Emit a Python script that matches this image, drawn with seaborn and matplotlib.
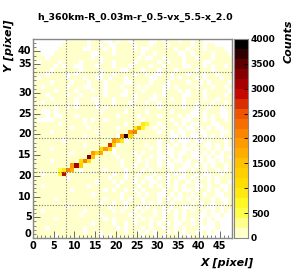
import numpy as np
import pandas as pd
import matplotlib
matplotlib.use("Agg")
import matplotlib.pyplot as plt
import matplotlib.transforms as mtransforms
import seaborn as sns
from matplotlib.colors import LinearSegmentedColormap

# 48x48 histogram, rows listed from top (y=47) to bottom (y=0); '#' = filled bin, '.' = empty
background_rows = [
    "........#####.###..#.##.####..#.###.##.##.......",
    ".......######.##.#..####.###.###.#####.##.##....",
    "#.....######..###.#.####.#..######.##.###.####..",
    "##...#########..###.######.##.#####..#.####.###.",
    "###.##########.#.########.#..##.####.##.###.####",
    "#.####.####.####.##.####.#####.#.###.####..#####",
    "#####.#.##..###.###.###.####.##.####..###.#.##.#",
    "####.######.####.####..###.###.###.####.###.####",
    "###.####.#.#####.##.####.##.#..##.###.###.##.###",
    "#.######.###.##..#.###.#####..###.#.###.#.###.##",
    "####.####.###.###.####..####.###.####.##.#.####.",
    "##.#####.###..###.###.###.#.###..#.####.###.##.#",
    "#####.####.###.##.####.###.####.###.#.###.#####.",
    "###.####.##.#####.###..#.####.#.####..###.####.#",
    "####.#####.###..###.####.###..###.##.####.##.###",
    "##.#######.####.###.###.###.##.#####.##.###.##.#",
    "#####.##.#.####.#.######.#####.#####.##.##.##.##",
    "##..#.##########.#####.####.#####.####..#.###..#",
    "###.#..###.#########.####.####.####.#...#.#.#..#",
    "#....#######.#.##.########.######.##..###.#.##.#",
    "######.#####.#########.#######.###.#.#..###..###",
    "#########.###.######.########.#.###.#..#.#.#..##",
    "####.##########.##############.##.#..#.#..###..#",
    "############.#######.############..#.#..#.#.#.##",
    "#######.##############.#######.##.#...#..#.###.#",
    "############.#######.######.##.#.#.#.#.##..#.#.#",
    "####.##############.########.#.#..##..#.##.#.#..",
    "#########.#########.####.#.###.#..#..#..#.#.#.##",
    "##############.#####.####.##.#..#.#.##...#.#..#.",
    "####.################.###.#.##.#.#..#.##.#..#.##",
    "##########.##########.##.##.##.#..##..#.#.#.##.#",
    "###########.#####.####.###.#.####.#..#.##.##.#.#",
    "##.################.##.##.###.##.#.#.##.#..##.##",
    "########.#########.###.#.##..#.#.##..#.#.#.#.###",
    "###############.###.#.##.#.#..##.#.##.#.##.#.##.",
    "##.##########.######.####.##.#.#.#.#.##..#.##..#",
    "#########.#######.#.##.#.#.####.##.#..#.##.#.#.#",
    "##############.######.###.#.##..#.#.##.##.##..##",
    "#####.###########.###.#.##.###.#.#..#.#.###.#..#",
    "################.##.##.###.#.#.##.####.#.##.##.#",
    "########.#########.###.##.#.###.#.##..##.#..#.##",
    "##.#########.######.#.##.#.##.#..#.#.#.##.#.#.#.",
    "###########.####.######.#.###.#.##.#.###..#..#..",
    "#####.###########.#.####.#.#.##.##.#.#.#.#.#....",
    "##############.####.##.#.###.#.#.#..##.#.#..#...",
    "###.########.#######.#.###.#.##.##.#.###....#...",
    "############.###.#####.##.#.#.##.#.#.##..#.#....",
    "#####.##########.#.#######.##.#.###.#.##.#......",
]
background_count = 60

# track bins: (x, y, counts)
track_x = [6, 6, 7, 7, 8, 9, 9, 10, 11, 11, 12, 13, 13, 14, 14, 15, 16, 16,
           17, 18, 18, 19, 19, 20, 21, 21, 22, 23, 23, 24, 24, 25, 26, 26, 27]
track_y = [15, 16, 15, 16, 16, 16, 17, 17, 17, 18, 18, 18, 19, 19, 20, 20, 20, 21,
           21, 21, 22, 22, 23, 23, 23, 24, 24, 24, 25, 25, 26, 26, 26, 27, 27]
track_counts = [600, 500, 2800, 900, 2000, 1600, 1900, 3000, 1300, 1100, 2000, 1000, 3300,
                1400, 1900, 1200, 1600, 1100, 1800, 1000, 2700, 1300, 1900, 1400, 900,
                2000, 3700, 1100, 1800, 2100, 900, 1600, 700, 800, 600]

x_ticks = [0, 5, 10, 15, 20, 25, 30, 35, 40, 45]
x_ticklabels = ["0", "5", "10", "15", "20", "25", "30", "35", "40", "45"]
y_ticks = [0, 5, 10, 15, 20, 25, 30, 35, 42, 45]
y_ticklabels = ["0", "5", "10", "20", "15", "20", "25", "30", "35", "40"]
cbar_ticks = [0, 500, 1000, 1500, 2000, 2500, 3000, 3500, 4000]

nbins = 48
z = np.zeros((nbins, nbins))
for i, row in enumerate(background_rows):
    row = row[:nbins].ljust(nbins, "#")
    for j, c in enumerate(row):
        if c == "#":
            z[nbins - 1 - i, j] = background_count
for x, y, c in zip(track_x, track_y, track_counts):
    z[y, x] = c
df = pd.DataFrame(z)

cmap = LinearSegmentedColormap.from_list(
    "root_heat",
    ["#ffffcc", "#ffff33", "#ffe000", "#ffbf00", "#ff9000",
     "#f05a00", "#c00000", "#700000", "#000000"], N=20)

fig = plt.figure(figsize=(2.99, 2.74), dpi=100)
ax = fig.add_axes([0.1104, 0.1314, 0.6656, 0.7263])
cax = fig.add_axes([0.7826, 0.1314, 0.0468, 0.7263])

sns.heatmap(df, ax=ax, cbar_ax=cax, cmap=cmap, vmin=0, vmax=4000, mask=(z == 0),
            cbar_kws={"ticks": cbar_ticks}, linewidths=0)
ax.set_ylim(0, nbins)
ax.set_xlim(0, nbins)

for g in [8, 16, 24, 32, 40]:
    ax.axvline(g, color="#777777", lw=0.8, ls=(0, (1, 1.5)))
    ax.axhline(g, color="#777777", lw=0.8, ls=(0, (1, 1.5)))

for s in ax.spines.values():
    s.set_visible(True)
    s.set_color("#888888")
    s.set_linewidth(1)

ax.set_xticks(x_ticks)
ax.set_xticklabels(x_ticklabels, rotation=0, fontsize=7, fontweight="bold")
ax.set_yticks(y_ticks)
ax.set_yticklabels(y_ticklabels, rotation=0, fontsize=7, fontweight="bold")
ax.set_xticks(np.arange(0, 48, 1), minor=True)
ax.set_yticks(np.arange(0, 48, 1), minor=True)
ax.tick_params(which="major", direction="in", length=5, width=0.6, color="#555555", pad=1)
ax.tick_params(axis="x", which="major", pad=2)
ax.tick_params(which="minor", direction="in", length=2.5, width=0.5, color="#555555")
ax.set_xlabel("")
ax.set_ylabel("")

# ROOT puts the bottom y label slightly above the corner
lbl0 = ax.get_yticklabels()[0]
lbl0.set_transform(lbl0.get_transform() +
                   mtransforms.ScaledTranslation(0, 3 / 72, fig.dpi_scale_trans))

cax.tick_params(direction="in", length=3, width=0.6, labelsize=6.5, pad=2)
for lbl in cax.get_yticklabels():
    lbl.set_fontweight("bold")
for s in cax.spines.values():
    s.set_visible(True)
    s.set_color("#888888")

fig.text(0.452, 0.935, "h_360km-R_0.03m-r_0.5-vx_5.5-x_2.0", ha="center", va="center",
         fontsize=6.8, fontweight="bold")
fig.text(0.85, 0.04, "X [pixel]", ha="right", va="center", fontsize=8,
         fontweight="bold", fontstyle="italic")
fig.text(0.03, 0.93, "Y [pixel]", ha="center", va="top", rotation=90, fontsize=8,
         fontweight="bold", fontstyle="italic")
fig.text(0.965, 0.93, "Counts", ha="center", va="top", rotation=90, fontsize=8,
         fontweight="bold", fontstyle="italic")

fig.savefig("out.png", dpi=100)
